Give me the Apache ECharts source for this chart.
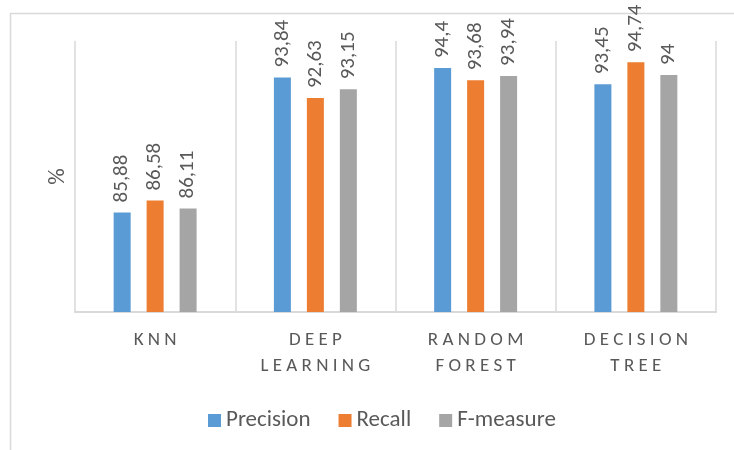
<!DOCTYPE html>
<html>
<head>
<meta charset="utf-8">
<script src="https://cdn.jsdelivr.net/npm/echarts@6/dist/echarts.min.js"></script>
<style>
  html, body { margin: 0; padding: 0; background: #fff; }
  #chart { width: 734px; height: 450px; }
</style>
</head>
<body>
<div id="chart"></div>
<script>
const categories = ["KNN", "DEEP\nLEARNING", "RANDOM\nFOREST", "DECISION\nTREE"];
const precision = [85.88, 93.84, 94.4, 93.45];
const recall = [86.58, 92.63, 93.68, 94.74];
const fMeasure = [86.11, 93.15, 93.94, 94];

const FONT = "Carlito, Lato, sans-serif";
const TEXT = "#595959";

// spaced out caps like the excel axis
const spaced = (s) => s.split("\n").map(l => l.split("").join(" ")).join("\n");
const comma = (p) => String(p.value).replace(".", ",");

const chart = echarts.init(document.getElementById("chart"));

const makeSeries = (name, data, color) => ({
  name: name,
  type: "bar",
  data: data,
  barWidth: 17,
  barGap: "94%",
  itemStyle: { color: color },
  label: {
    show: true,
    position: "top",
    rotate: 90,
    align: "left",
    verticalAlign: "middle",
    distance: 10,
    color: TEXT,
    fontFamily: FONT,
    fontSize: 21,
    formatter: comma,
  },
});

chart.setOption({
  animation: false,
  textStyle: { fontFamily: FONT },
  graphic: [{
    type: "rect",
    left: 8,
    top: 11,
    shape: { width: 740, height: 460 },
    style: { fill: "none", stroke: "#d9d9d9", lineWidth: 1.5 },
    silent: true,
  }],
  grid: { left: 75, right: 18, top: 41, bottom: 138 },
  legend: {
    left: 203,
    top: 404,
    itemWidth: 13,
    itemHeight: 13,
    itemGap: 28,
    icon: "rect",
    textStyle: { color: TEXT, fontFamily: FONT, fontSize: 23 },
    data: ["Precision", "Recall", "F-measure"],
  },
  xAxis: {
    type: "category",
    data: categories,
    axisLine: { lineStyle: { color: "#d9d9d9", width: 2 } },
    axisTick: { show: false },
    splitLine: { show: true, lineStyle: { color: "#d9d9d9", width: 1.5 } },
    axisLabel: {
      color: TEXT,
      fontFamily: FONT,
      fontSize: 19,
      lineHeight: 26,
      margin: 15,
      interval: 0,
      formatter: spaced,
    },
  },
  yAxis: {
    type: "value",
    min: 80,
    max: 96,
    interval: 2,
    name: "%",
    nameLocation: "middle",
    nameRotate: 90,
    nameGap: 5,
    nameTextStyle: { color: TEXT, fontFamily: FONT, fontSize: 23 },
    axisLine: { show: false },
    axisTick: { show: false },
    axisLabel: { show: false },
    splitLine: { show: false },
  },
  series: [
    makeSeries("Precision", precision, "#5B9BD5"),
    makeSeries("Recall", recall, "#ED7D31"),
    makeSeries("F-measure", fMeasure, "#A5A5A5"),
  ],
});

window.onresize = function () {
  chart.resize();
};
</script>
</body>
</html>
